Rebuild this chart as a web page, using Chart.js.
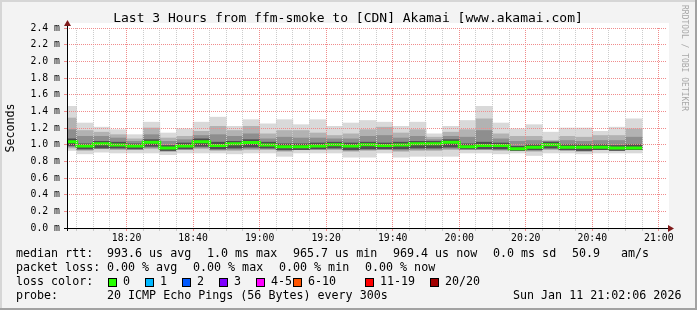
<!DOCTYPE html>
<html>
<head>
<meta charset="utf-8">
<script src="https://cdn.jsdelivr.net/npm/chart.js@4.4.1/dist/chart.umd.min.js"></script>
<style>
    html, body { margin: 0; padding: 0; background: #f3f3f3; }
    canvas { display: block; }
</style>
</head>
<body>
<canvas id="smokeChart" width="697" height="310"></canvas>
<script>
// 5 minute bins, labelled by the time each bin ends (first one is partial)
const binEnds = ["18:05", "18:10", "18:15", "18:20", "18:25", "18:30", "18:35", "18:40", "18:45", "18:50",
    "18:55", "19:00", "19:05", "19:10", "19:15", "19:20", "19:25", "19:30", "19:35", "19:40",
    "19:45", "19:50", "19:55", "20:00", "20:05", "20:10", "20:15", "20:20", "20:25", "20:30",
    "20:35", "20:40", "20:45", "20:50", "20:55"];

// smoke, in ms
const pingMax = [1.46, 1.26, 1.21, 1.18, 1.12, 1.27, 1.14, 1.19, 1.27, 1.33, 1.22, 1.30, 1.25, 1.30, 1.24, 1.30, 1.22, 1.26,
    1.29, 1.27, 1.22, 1.27, 1.13, 1.22, 1.29, 1.46, 1.26, 1.19, 1.24, 1.15, 1.20, 1.20, 1.16, 1.21, 1.31];
const pingHigh = [1.32, 1.17, 1.15, 1.12, 1.07, 1.20, 1.08, 1.10, 1.16, 1.22, 1.17, 1.22, 1.13, 1.17, 1.17, 1.14, 1.11, 1.13,
    1.18, 1.21, 1.14, 1.18, 1.09, 1.15, 1.18, 1.31, 1.13, 1.10, 1.10, 1.05, 1.10, 1.09, 1.11, 1.11, 1.19];
const innerHigh = [1.18, 1.10, 1.10, 1.08, 1.04, 1.12, 1.04, 1.06, 1.11, 1.12, 1.10, 1.13, 1.07, 1.09, 1.08, 1.08, 1.07, 1.07,
    1.10, 1.11, 1.08, 1.10, 1.06, 1.10, 1.09, 1.17, 1.07, 1.04, 1.05, 1.04, 1.05, 1.04, 1.05, 1.05, 1.09];
const coreHigh = [1.07, 1.01, 1.04, 1.03, 1.01, 1.06, 0.99, 1.02, 1.07, 1.03, 1.04, 1.06, 1.03, 1.01, 1.01, 1.02, 1.03, 1.02,
    1.03, 1.02, 1.03, 1.04, 1.04, 1.06, 1.01, 1.03, 1.02, 0.98, 1.00, 1.03, 1.00, 1.00, 1.00, 0.99, 1.00];
const medianRtt = [1.035, 0.985, 1.01, 0.995, 0.985, 1.03, 0.96, 0.985, 1.035, 0.99, 1.01, 1.025, 0.995, 0.975, 0.975, 0.985, 1.0, 0.985,
    1.0, 0.99, 0.995, 1.01, 1.01, 1.03, 0.975, 0.99, 0.99, 0.95, 0.97, 1.0, 0.97, 0.97, 0.97, 0.96, 0.96];
const coreLow = [0.99, 0.95, 0.96, 0.96, 0.95, 0.98, 0.93, 0.95, 0.98, 0.95, 0.96, 0.97, 0.96, 0.94, 0.94, 0.95, 0.96, 0.94,
    0.95, 0.95, 0.95, 0.96, 0.96, 0.97, 0.95, 0.95, 0.95, 0.93, 0.94, 0.96, 0.94, 0.93, 0.94, 0.93, 0.94];
const innerLow = [0.975, 0.94, 0.955, 0.95, 0.945, 0.965, 0.925, 0.945, 0.965, 0.94, 0.945, 0.955, 0.95, 0.93, 0.94, 0.945, 0.95, 0.93,
    0.94, 0.945, 0.935, 0.945, 0.945, 0.955, 0.945, 0.945, 0.94, 0.93, 0.93, 0.95, 0.935, 0.925, 0.94, 0.935, 0.94];
const pingLow = [0.96, 0.93, 0.95, 0.94, 0.94, 0.95, 0.92, 0.94, 0.95, 0.93, 0.93, 0.94, 0.94, 0.92, 0.94, 0.94, 0.94, 0.92,
    0.93, 0.94, 0.92, 0.93, 0.93, 0.94, 0.94, 0.94, 0.93, 0.93, 0.92, 0.94, 0.93, 0.92, 0.94, 0.94, 0.94];
const pingMin = [0.93, 0.89, 0.91, 0.90, 0.90, 0.90, 0.88, 0.90, 0.90, 0.90, 0.89, 0.90, 0.90, 0.86, 0.90, 0.90, 0.90, 0.85,
    0.85, 0.90, 0.85, 0.86, 0.86, 0.86, 0.90, 0.90, 0.89, 0.90, 0.87, 0.90, 0.90, 0.89, 0.90, 0.90, 0.90];

const lossLabels = ["0", "1", "2", "3", "4-5", "6-10", "11-19", "20/20"];
const lossColors = ["#26ff00", "#00b8ff", "#0059ff", "#7e00ff", "#ff00ff", "#ff5500", "#ff0000", "#a10000"];

const startMin = 2.1;   // 18:02:06
const endMin = 182.15;  // 21:02:06
const MONO = "'DejaVu Sans Mono', monospace";

function toMin(t) {
    const [h, m] = t.split(":").map(Number);
    return (h - 18) * 60 + m;
}

function fmtTime(v) {
    const total = Math.round(v);
    const h = 18 + Math.floor(total / 60);
    const m = total % 60;
    return `${h}:${String(m).padStart(2, "0")}`;
}

function band(lo, hi) {
    return binEnds.map((t, i) => ({ x: toMin(t) - 2.5, y: [lo[i], hi[i]] }));
}

function medianPoints() {
    const pts = [];
    binEnds.forEach((t, i) => {
        const end = toMin(t);
        pts.push({ x: end - 5, y: medianRtt[i] });
        pts.push({ x: end, y: medianRtt[i] });
    });
    return pts;
}

const smokeBar = {
    type: "bar",
    grouped: false,
    barPercentage: 1,
    categoryPercentage: 1,
    borderWidth: 0,
    clip: 0,
};

const gridRed = "#f08c8c";
const gridGray = "#cccccc";

const framePlugin = {
    id: "frame",
    beforeDraw(chart) {
        const { ctx, chartArea: a, width, height } = chart;
        ctx.save();
        ctx.fillStyle = "#f3f3f3";
        ctx.fillRect(0, 0, width, height);
        ctx.fillStyle = "#ffffff";
        ctx.fillRect(a.left, a.top - 5, a.right - a.left + 3, a.bottom - a.top + 5);
        // 3d frame
        ctx.fillStyle = "#d6d6d6";
        ctx.fillRect(0, 0, width, 2);
        ctx.fillRect(0, 0, 2, height);
        ctx.fillStyle = "#a2a2a2";
        ctx.fillRect(0, height - 2, width, 2);
        ctx.fillRect(width - 2, 0, 2, height);
        ctx.restore();
    },
    afterDraw(chart) {
        const { ctx, chartArea: a } = chart;
        ctx.save();

        // axes with arrows
        ctx.strokeStyle = "#000";
        ctx.lineWidth = 1;
        ctx.beginPath();
        ctx.moveTo(a.left - 3, a.bottom + 0.5);
        ctx.lineTo(a.right + 4, a.bottom + 0.5);
        ctx.moveTo(a.left + 0.5, a.bottom + 3);
        ctx.lineTo(a.left + 0.5, a.top - 4);
        ctx.stroke();
        ctx.fillStyle = "#7f1a1a";
        ctx.beginPath();
        ctx.moveTo(a.right + 2, a.bottom - 3);
        ctx.lineTo(a.right + 8, a.bottom + 0.5);
        ctx.lineTo(a.right + 2, a.bottom + 4);
        ctx.closePath();
        ctx.fill();
        ctx.beginPath();
        ctx.moveTo(a.left - 3, a.top - 2);
        ctx.lineTo(a.left + 0.5, a.top - 8);
        ctx.lineTo(a.left + 4, a.top - 2);
        ctx.closePath();
        ctx.fill();

        // title
        ctx.fillStyle = "#000";
        ctx.font = `13px ${MONO}`;
        ctx.textAlign = "center";
        ctx.textBaseline = "middle";
        ctx.fillText("Last 3 Hours from ffm-smoke to [CDN] Akamai [www.akamai.com]", 348, 19);

        // y title
        ctx.save();
        ctx.font = `11.66px ${MONO}`;
        ctx.translate(11, (a.top + a.bottom) / 2);
        ctx.rotate(-Math.PI / 2);
        ctx.fillText("Seconds", 0, 0);
        ctx.restore();

        // watermark
        ctx.save();
        ctx.fillStyle = "#a8a8a8";
        ctx.font = `8px ${MONO}`;
        ctx.textAlign = "left";
        ctx.translate(684, 5);
        ctx.rotate(Math.PI / 2);
        ctx.fillText("RRDTOOL / TOBI OETIKER", 0, 0);
        ctx.restore();

        // legend text
        ctx.font = `11.66px ${MONO}`;
        ctx.textAlign = "left";
        const rows = [
            [254, [[16, "median rtt:"], [107, "993.6 us avg"], [207, "1.0 ms max"], [293, "965.7 us min"],
                [393, "969.4 us now"], [493, "0.0 ms sd"], [572, "50.9"], [621, "am/s"]]],
            [268, [[16, "packet loss:"], [107, "0.00 % avg"], [193, "0.00 % max"], [279, "0.00 % min"], [365, "0.00 % now"]]],
            [282, [[16, "loss color:"]]],
            [296, [[16, "probe:"], [107, "20 ICMP Echo Pings (56 Bytes) every 300s"], [513, "Sun Jan 11 21:02:06 2026"]]],
        ];
        rows.forEach(([y, parts]) => {
            parts.forEach(([x, txt]) => ctx.fillText(txt, x, y));
        });

        const boxX = [108.5, 145.5, 182.5, 219.5, 256.5, 293.5, 365.5, 430.5];
        lossLabels.forEach((label, i) => {
            ctx.fillStyle = lossColors[i];
            ctx.fillRect(boxX[i], 278.5, 8, 8);
            ctx.strokeStyle = "#000";
            ctx.strokeRect(boxX[i], 278.5, 8, 8);
            ctx.fillStyle = "#000";
            ctx.fillText(label, boxX[i] + 14.5, 282);
        });

        ctx.restore();
    },
};

new Chart(document.getElementById("smokeChart"), {
    data: {
        datasets: [
            {
                type: "line",
                label: "median",
                data: medianPoints(),
                borderColor: lossColors[0],
                borderWidth: 3,
                pointRadius: 0,
                fill: false,
                clip: 0,
                order: 0,
            },
            { ...smokeBar, label: "core", data: band(coreLow, coreHigh), backgroundColor: "#4e4e4e", order: 1 },
            { ...smokeBar, label: "inner", data: band(innerLow, innerHigh), backgroundColor: "#8e8e8e", order: 2 },
            { ...smokeBar, label: "mid", data: band(pingLow, pingHigh), backgroundColor: "#b2b2b2", order: 3 },
            { ...smokeBar, label: "all", data: band(pingMin, pingMax), backgroundColor: "#d9d9d9", order: 4 },
        ],
    },
    options: {
        responsive: false,
        animation: false,
        devicePixelRatio: 1,
        layout: { padding: { top: 28, right: 31, left: 0, bottom: 0 } },
        plugins: {
            legend: { display: false },
            tooltip: { enabled: false },
        },
        scales: {
            x: {
                type: "linear",
                min: startMin,
                max: endMin,
                offset: false,
                afterFit: (scale) => { scale.height = 82; },
                ticks: {
                    stepSize: 5,
                    includeBounds: false,
                    autoSkip: false,
                    maxRotation: 0,
                    padding: 2,
                    color: "#000",
                    font: { family: MONO, size: 9.8 },
                    callback: (v) => (Math.round(v) % 20 === 0 ? fmtTime(v) : ""),
                },
                grid: {
                    z: 1,
                    offset: false,
                    tickLength: 3,
                    color: (c) => (c.tick && Math.round(c.tick.value) % 20 === 0 ? gridRed : gridGray),
                },
                border: { display: false, dash: [1, 1] },
            },
            y: {
                min: 0,
                max: 2.4,
                afterFit: (scale) => { scale.width = 67; },
                ticks: {
                    stepSize: 0.1,
                    padding: 4,
                    color: "#000",
                    font: { family: MONO, size: 9.8 },
                    callback: (v) => (Math.round(v * 10) % 2 === 0 ? `${v.toFixed(1)} m` : ""),
                },
                grid: {
                    z: 1,
                    tickLength: 3,
                    color: (c) => (c.tick && Math.round(c.tick.value * 10) % 2 === 0 ? gridRed : gridGray),
                },
                border: { display: false, dash: [1, 1] },
            },
        },
    },
    plugins: [framePlugin],
});
</script>
</body>
</html>
